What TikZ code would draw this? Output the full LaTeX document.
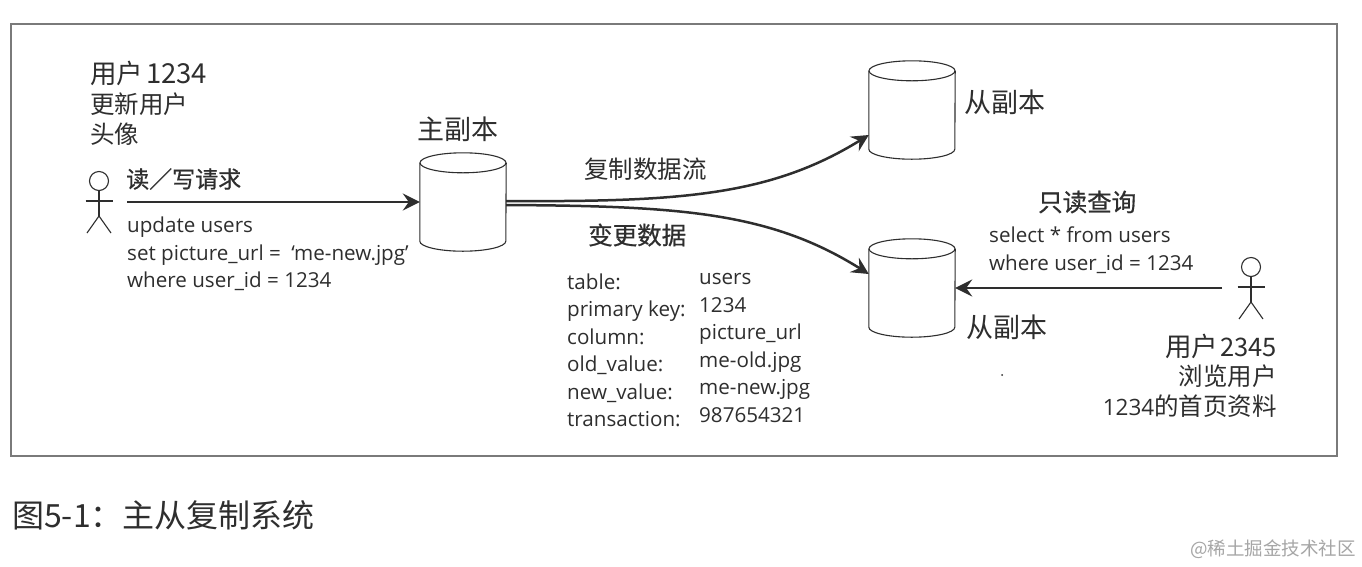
\documentclass[tikz,border=0pt]{standalone}
\usepackage{fontspec}
\usepackage{tikz}
\usepackage{xcolor}
\usetikzlibrary{arrows.meta,positioning,calc}
\setmainfont{Open Sans}
\newfontfamily\cjk{Noto Sans CJK SC}
\newfontfamily\cjkheavy[FakeBold=0.6]{Noto Sans CJK SC}
\definecolor{ink}{HTML}{2E2E2E}
\definecolor{frame}{HTML}{7A7A7A}
\definecolor{stamp}{HTML}{A6A6A6}
\tikzset{
  dbnode/.style={minimum width=86pt, minimum height=98pt, inner sep=0pt},
  dbline/.style={draw=ink, fill=white, line width=1.1pt},
  arrow/.style={-{Stealth[length=17pt,width=17pt,inset=6pt]}, line width=2.5pt, draw=ink},
  stick/.style={draw=ink, line width=1.1pt},
  cjklab/.style={text=ink, inner sep=0pt, align=left, font=\cjk\fontsize{24.5}{30}\selectfont},
  codelab/.style={text=ink, inner sep=0pt, align=left, font=\fontsize{20.6}{27.5}\selectfont}
}
\begin{document}
\begin{tikzpicture}[x=1pt,y=-1pt]
  \useasboundingbox (0,0) rectangle (1362,566);
  \fill[white] (0,0) rectangle (1362,566);
  \draw[draw=frame,line width=1.3pt] (11,24) rectangle (1337,456);
  % replicas
  \node[dbnode] (master) at (463,202) {};
  \node[dbnode] (slavea) at (912,110) {};
  \node[dbnode] (slaveb) at (912,288) {};
  \foreach \db in {master,slavea,slaveb} {
    \draw[dbline] ($(\db.north west)+(0,10)$) -- ($(\db.south west)+(0,-10)$)
      arc[x radius=43pt,y radius=10pt,start angle=180,end angle=360] -- ($(\db.north east)+(0,10)$);
    \draw[dbline] ($(\db.north)+(0,10)$) ellipse [x radius=43pt,y radius=10pt];
  }
  \node[cjklab,anchor=west,font=\cjk\fontsize{27}{30}\selectfont] (masterlab) at (417,129) {主副本};
  \node[cjklab,anchor=west,font=\cjk\fontsize{27}{30}\selectfont] (slavealab) at (964,102) {从副本};
  \node[cjklab,anchor=west,font=\cjk\fontsize{27}{30}\selectfont] (slaveblab) at (966,327) {从副本};
  % users
  \foreach \nm/\ux/\uy in {usera/99/181,userb/1251/267} {
    \node[stick,circle,inner sep=0pt,minimum size=19pt] (\nm) at (\ux,\uy) {};
    \coordinate (\nm hip) at (\ux,\uy+35);
    \draw[stick] (\nm.south) -- (\nm hip);
    \draw[stick] (\ux-13.5,\uy+20) -- (\ux+13.5,\uy+20);
    \draw[stick] (\ux-12,\uy+52) -- (\nm hip) -- (\ux+12,\uy+52);
  }
  % left side text
  \node[cjklab,anchor=west] (nameone) at (90,73) {{\cjk\fontsize{26.5}{30}\selectfont 用户}\hspace{3pt}{\fontsize{27.5}{30}\selectfont 1234}};
  \node[cjklab,anchor=west] (doone) at (90,119) {更新用户\\头像};
  \node[cjklab,anchor=west,font=\cjkheavy\fontsize{23}{30}\selectfont] (reqlab) at (126,179) {读\symbol{"FF0F}写请求};
  \node[codelab,anchor=north west] (reqsql) at (127,217) {update users\\set picture\_url =\hspace{5pt} ‘me-new.jpg’\\where user\_id = 1234};
  % replication
  \node[cjklab,anchor=west] (streamlab) at (584,169) {复制数据流};
  \node[cjklab,anchor=west,font=\cjkheavy\fontsize{24.5}{30}\selectfont] (changelab) at (588,235) {变更数据};
  \node[codelab,anchor=north west] (keys) at (567,273.5) {table:\\primary key:\\column:\\old\_value:\\new\_value:\\transaction:};
  \node[codelab,anchor=north west] (vals) at (699,273.5) {users\\1234\\picture\_url\\me-old.jpg\\me-new.jpg\\987654321};
  % right side text
  \node[cjklab,anchor=west,font=\cjkheavy\fontsize{24.5}{30}\selectfont] (querylab) at (1038,202) {只读查询};
  \node[codelab,anchor=north west] (querysql) at (989,227) {select * from users\\where user\_id = 1234};
  \node[cjklab,anchor=east] (nametwo) at (1277,346) {{\cjk\fontsize{26.5}{30}\selectfont 用户}\hspace{2pt}{\fontsize{25.5}{30}\selectfont 2345}};
  \node[cjklab,anchor=north east,align=right] (dotwo) at (1277,365) {浏览用户\\{\fontsize{22.5}{30}\selectfont\rmfamily 1234}的首页资料};
  \fill[ink] (1002,375) circle (1pt);
  % arrows
  \coordinate (reqstart) at (127,202);
  \coordinate (querystart) at (1222,288);
  \draw[arrow] (reqstart) -- (reqstart -| master.west);
  \draw[arrow] (querystart) -- (querystart -| slaveb.east);
  \draw[arrow] ($(master.east)+(0,-1)$) .. controls (680,202) and (770,196) .. ($(slavea.west)+(0,25)$);
  \draw[arrow] ($(master.east)+(0,3)$) .. controls (680,206) and (770,212) .. ($(slaveb.west)+(0,-14)$);
  % caption
  \node[text=ink,inner sep=0pt,anchor=west,font=\cjk\fontsize{32}{34}\selectfont] (caption) at (12,515) {图5-1\symbol{"FF1A}主从复制系统};
  \node[text=stamp,inner sep=0pt,anchor=east,font=\cjk\fontsize{18.5}{22}\selectfont] (stampnode) at (1356,549) {@稀土掘金技术社区};
\end{tikzpicture}
\end{document}
